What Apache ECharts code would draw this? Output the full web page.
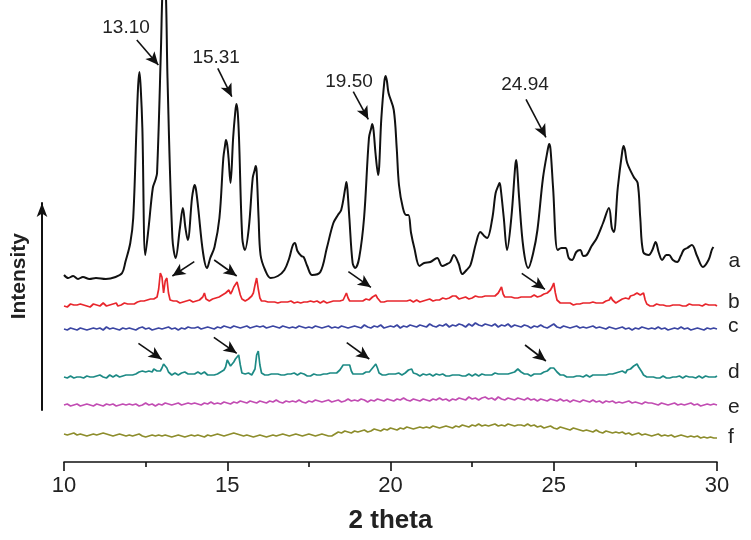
<!DOCTYPE html>
<html><head><meta charset="utf-8">
<script src="https://cdn.jsdelivr.net/npm/echarts@6/dist/echarts.min.js"></script>
<style>html,body{margin:0;padding:0;background:#fff}#c{width:751px;height:540px}</style>
</head><body><div id="c"></div>
<script>
// ---- data ----
const xTicks = [10, 15, 20, 25, 30];
const traceNames = ['a', 'b', 'c', 'd', 'e', 'f'];
const offsets = { a: 184, b: 157, c: 133, d: 85, e: 57, f: 27 };

// Trace a: [2theta, intensity above baseline]
const traceA = [
[10.0,3],[10.13,0],[10.28,2],[10.43,-1],[10.58,1],[10.78,-1],[10.98,0],[11.28,-1],[11.58,1],[11.78,5],
[11.88,16],[12.03,35],[12.12,60],[12.22,150],[12.27,192],[12.31,206],[12.35,190],[12.40,150],[12.49,23],[12.59,50],[12.72,90],[12.80,98],
[12.85,105],[12.97,230],[13.02,290],[13.07,300],[13.12,285],[13.17,200],[13.32,40],[13.42,20],[13.55,50],[13.64,70],[13.72,50],[13.79,38],
[13.92,80],[13.97,90],[14.00,93],[14.04,89],[14.11,70],[14.26,25],[14.38,10],[14.48,20],[14.61,31],[14.76,60],[14.88,120],[14.93,132],[14.96,138],
[15.00,133],[15.04,120],[15.10,95],[15.18,140],[15.24,164],[15.28,174],[15.32,166],[15.36,140],[15.46,40],[15.54,28],[15.66,50],[15.78,100],[15.84,108],[15.87,112],
[15.90,107],[15.96,60],[16.02,23],[16.16,8],[16.33,0],[16.55,2],[16.75,8],[16.90,20],[17.00,32],[17.07,35],[17.15,27],
[17.27,22],[17.34,21],[17.45,12],[17.60,3],[17.85,6],[18.05,30],[18.25,55],[18.39,63],[18.49,68],[18.62,91],[18.65,96],[18.68,89],
[18.74,60],[18.84,15],[18.92,10],[19.04,20],[19.19,60],[19.34,140],[19.41,150],[19.44,154],[19.48,148],[19.54,125],[19.62,103],[19.72,160],
[19.81,196],[19.85,202],[19.89,197],[19.94,185],[20.10,168],[20.19,130],[20.26,93],[20.38,70],[20.48,63],[20.55,63],[20.63,45],[20.73,30],
[20.89,12],[21.03,15],[21.22,16],[21.43,20],[21.58,12],[21.73,14],[21.83,16],[21.94,23],[22.08,15],[22.20,4],
[22.33,8],[22.45,13],[22.62,35],[22.75,46],[22.87,42],[22.96,40],[23.12,60],[23.22,85],[23.31,93],[23.34,95],[23.37,91],[23.47,60],
[23.57,28],[23.70,60],[23.82,112],[23.85,118],[23.88,110],[23.94,80],[24.07,30],[24.22,10],[24.37,25],[24.50,48],[24.67,100],[24.82,129],[24.86,134],
[24.90,129],[24.98,90],[25.12,28],[25.24,30],[25.36,30],[25.46,20],[25.56,18],[25.69,26],[25.81,28],[25.91,22],[26.01,23],
[26.16,32],[26.32,40],[26.51,55],[26.69,70],[26.78,50],[26.84,46],[26.96,90],[27.10,127],[27.14,132],[27.18,128],[27.25,115],[27.45,101],
[27.57,95],[27.65,60],[27.74,26],[27.91,23],[28.02,28],[28.12,36],[28.22,25],[28.32,18],[28.45,23],[28.53,23],
[28.65,18],[28.78,16],[28.89,22],[28.98,28],[29.09,30],[29.23,33],[29.39,22],[29.57,11],[29.74,18],[29.84,28],
[29.89,31]
];

// Traces b and d: intensity every 0.05 deg from 10 to 30
const traceB = [
-1,0,-2,-1,1,-1,0,-2,0,-1, 1,-1,0,1,-1,0,-2,0,1,-1, 0,1,-1,0,2,0,-1,1,0,-1, 1,0,2,-1,1,0,1,2,0,1, 2,1,3,1,2,3,2,4,3,4,
3,5,4,6,5,6,5,8,16,32, 28,12,24,27,12,5,3,4,2,4,
3,2,4,3,2,4,3,5,4,3, 5,4,6,5,6,8,12,6,5,4,
5,6,5,7,6,8,9,10,11,12, 13,15,11,14,18,20,23,22,10,6,
5,4,5,6,7,9,12,20,27,16, 7,4,3,4,2,3,4,3,2,3,
3,2,4,3,2,3,4,3,2,4, 3,2,4,3,3,2,4,3,2,3,
2,4,3,3,2,4,3,2,3,4, 3,2,4,3,2,4,3,4,3,4,
4,5,6,12,7,4,3,4,3,4, 3,4,3,4,5,6,7,5,6,8,
9,10,7,5,3,4,3,2,4,3, 4,3,4,5,4,3,4,5,4,3,
4,3,5,4,3,4,5,4,3,5, 4,6,5,4,6,5,4,6,5,6,
5,6,7,5,6,5,7,6,9,11, 9,7,6,8,7,9,8,7,6,8,
7,8,9,7,8,9,8,10,9,8, 9,10,9,8,9,10,12,15,18,11,
8,9,8,7,8,9,7,8,7,9, 8,7,8,9,8,7,8,9,10,9,
8,9,9,10,11,11,12,13,15,18, 22,12,5,3,2,3,2,1,2,1,
2,1,0,2,1,2,1,0,2,1, 2,1,2,1,3,5,2,1,2,3,
2,3,4,3,5,8,5,3,2,3, 4,5,6,5,7,8,6,9,8,10,
11,12,13,10,11,12,5,1,0,-1, 0,-1,0,1,-1,0,-1,0,1,-1,
0,-1,1,0,-1,0,-2,0,1,-1, 0,-1,0,1,-1,0,-2,0,-1,0,
0,-1,0,1,-1,0,-2,0,-1,0,-1
];
const traceD = [
0,1,-1,0,1,0,-1,1,0,2, 0,1,-1,0,1,2,0,1,0,-1, 1,0,2,1,0,1,-1,0,2,1, 0,1,2,1,0,2,1,3,2,1, 2,3,2,4,3,2,5,3,6,4,
5,4,6,7,5,8,7,6,7,6, 9,13,15,9,5,3,2,3,4,3,
2,3,4,3,5,6,3,2,3,4, 3,4,5,4,3,4,5,3,2,3,
2,3,2,4,3,4,5,6,7,10, 17,19,11,9,15,18,20,22,12,4,
2,3,2,4,3,2,4,8,22,26, 12,4,3,2,3,2,4,3,2,3,
2,3,4,2,3,2,4,3,2,3, 2,4,3,2,3,4,2,3,2,1,
2,1,2,3,1,2,3,2,1,3, 2,3,2,4,3,4,5,4,6,7,
9,12,13,12,13,12,6,3,2,3, 4,3,2,3,4,5,6,5,7,9,
11,13,9,4,3,2,3,2,4,3, 2,3,4,3,2,4,3,2,3,4,
5,7,9,8,4,2,3,2,1,2, 3,1,2,1,3,2,1,2,3,1,
2,1,3,2,1,2,1,3,2,1, 2,1,2,3,1,2,1,2,3,2,
1,2,3,2,1,2,3,1,2,3, 2,3,2,3,4,5,3,4,3,2,
3,2,3,2,4,3,5,6,8,7, 5,4,3,2,3,2,1,2,3,2,
3,2,3,4,5,5,6,8,9,8, 9,7,5,3,2,1,2,1,0,1,
0,1,0,2,1,0,1,2,0,1, 2,1,0,1,2,1,2,3,2,1,
2,3,2,4,3,4,3,5,4,3, 5,4,6,5,4,7,6,8,9,11,
12,13,10,8,5,2,1,0,-1,0, -1,0,1,-1,0,-1,0,1,0,-1,
0,-1,1,0,-1,0,-1,1,0,-1, 0,1,-1,0,-1,0,1,-1,0,1,
0,-1,0,1,-1,0,-1,0,1,0,1
];
// Traces c, e, f: intensity every 0.1 deg from 10 to 30
const traceC = [
0,-1,1,0,-1,1,0,-1,0,1, 0,1,-1,2,0,1,0,-1,1,0, 1,0,-1,1,2,0,1,-1,0,1, 0,1,2,0,1,-1,1,0,2,1,
1,2,0,1,2,1,0,2,1,3, 2,1,3,2,1,2,3,1,2,3, 2,3,1,2,3,2,1,3,2,1, 2,1,3,2,1,2,1,3,2,1,
2,3,1,2,1,3,2,1,2,3, 2,1,4,2,1,3,2,4,1,2, 3,2,4,1,3,2,4,3,2,4, 3,2,5,3,2,4,3,5,2,4,
3,5,4,2,5,3,6,4,3,5, 4,3,5,2,4,3,5,2,4,3, 2,4,3,1,3,2,4,2,1,3, 5,2,1,3,2,1,2,3,1,2,
1,2,3,1,2,1,0,2,1,0, 1,2,0,1,-1,1,0,2,1,0, 1,0,2,0,1,-1,0,1,0,2, 0,1,-1,0,1,0,-1,1,0,1,
0
];
const traceE = [
0,1,-1,0,1,-1,0,1,0,-1, 1,0,-1,1,0,1,-1,0,1,0, 1,0,1,-1,0,2,0,1,-1,1, 0,2,1,0,1,2,0,1,2,1,
2,1,0,2,1,3,1,2,1,3, 2,1,3,2,4,3,2,4,3,2, 4,3,2,4,3,5,3,2,4,3, 4,3,5,3,2,4,3,5,4,3,
4,5,3,4,5,3,4,6,4,5, 4,6,5,3,5,4,6,5,4,6, 5,4,6,5,7,5,4,6,5,4, 6,5,4,6,5,7,5,6,4,6,
5,7,6,5,8,6,7,5,7,8, 6,7,5,8,6,5,7,6,5,7, 6,5,7,5,6,4,6,5,4,6, 5,4,6,4,5,3,5,4,3,5,
4,3,5,3,4,2,4,3,4,2, 3,2,3,4,2,3,2,1,3,2, 2,1,0,2,1,0,1,2,0,1, 0,1,2,0,1,-1,0,1,0,1,
0
];
const traceF = [
1,0,1,2,0,1,0,-1,0,1, 0,1,2,1,0,-1,0,1,0,-1, 0,-1,0,1,-1,-2,-1,0,-1,0, -1,0,-1,-2,-1,0,-1,-2,-1,0,
-1,0,-1,-2,0,-1,0,1,0,-1, 0,1,2,1,0,-1,0,-1,-2,-1, 0,-1,-2,-1,0,-1,0,1,0,-1, 0,1,0,-1,0,1,0,-1,0,1,
0,-1,-1,1,3,2,4,3,2,4, 3,4,5,3,4,6,5,4,6,5, 7,6,5,7,6,8,7,6,7,8, 7,8,7,9,8,7,8,9,8,7,
9,8,10,9,8,10,9,11,9,10, 9,10,11,9,10,9,11,10,9,10, 10,9,11,9,10,8,9,7,8,9, 7,6,8,7,6,5,7,6,5,4,
5,4,3,5,3,2,4,3,2,3, 2,3,1,2,0,1,2,0,1,0, -1,0,1,-1,0,-1,0,-2,-1,0, -1,-2,-1,-2,-1,-3,-2,-3,-2,-3,
-3
];

// Peak annotations (label text, label position, arrow start, arrow end) in data units
const peakLabels = ['13.10', '15.31', '19.50', '24.94'];
const peakLabelPos = [[11.90, 434.5], [14.66, 404.5], [18.73, 380], [24.12, 377]];
const peakArrows = [
  [[12.23, 422], [12.89, 397]], [[14.71, 393.7], [15.14, 365.3]],
  [[18.86, 370.3], [19.32, 342.7]], [[24.15, 362.7], [24.76, 324.7]],
  // arrows on trace b
  [[13.99, 200.3], [13.32, 186]], [[14.60, 202], [15.29, 186]],
  [[18.71, 190.3], [19.40, 174.7]], [[24.02, 188.7], [24.73, 172.7]],
  // arrows on trace d
  [[12.28, 118.7], [12.99, 102.7]], [[14.59, 124.7], [15.29, 108.7]],
  [[18.66, 119.3], [19.35, 103]], [[24.12, 117], [24.76, 101]]
];

// ---- build ----
const FONT = '"Liberation Sans", Arial, Helvetica, sans-serif';
function grid(vals, x0, x1, off) {
  const n = vals.length, step = (x1 - x0) / (n - 1);
  return vals.map((v, i) => [+(x0 + i * step).toFixed(3), off + v]);
}
const colors = { a: '#111111', b: '#e8262c', c: '#3b46a3', d: '#1d8a85', e: '#c24db3', f: '#8d8d2c' };
const labelDy = { a: 14, b: -4, c: -2.5, d: -3.5, e: 2.5, f: -0.5 };
const labelDist = { a: 15, b: 11, c: 11, d: 11, e: 11, f: 11 };

const seriesData = {
  a: traceA.map(p => [p[0], offsets.a + p[1]]),
  b: grid(traceB, 10, 30, offsets.b),
  c: grid(traceC, 10, 30, offsets.c),
  d: grid(traceD, 10, 30, offsets.d),
  e: grid(traceE, 10, 30, offsets.e),
  f: grid(traceF, 10, 30, offsets.f)
};

const series = traceNames.map(n => ({
  name: n, type: 'line', xAxisIndex: 0, yAxisIndex: 0,
  data: seriesData[n], showSymbol: false, symbol: 'none',
  smooth: n === 'a' ? 0.35 : false,
  lineStyle: { color: colors[n], width: n === 'a' ? 2 : 1.7 },
  itemStyle: { color: colors[n] },
  silent: true, z: n === 'a' ? 3 : 2,
  endLabel: { show: true, formatter: n, color: '#222', fontFamily: FONT, fontSize: 21,
    distance: labelDist[n], offset: [0, labelDy[n]] }
}));

series[0].markLine = {
  silent: true, animation: false,
  symbol: ['none', 'arrow'], symbolSize: [9, 13],
  label: { show: false },
  lineStyle: { color: '#111', width: 1.6, type: 'solid' },
  emphasis: { disabled: true },
  data: peakArrows.map(a => [{ coord: a[0] }, { coord: a[1] }])
};
series[0].markPoint = {
  silent: true, animation: false, symbol: 'rect', symbolSize: 1,
  itemStyle: { color: 'rgba(0,0,0,0)' },
  label: { show: true, position: 'inside', formatter: '{b}', color: '#222', fontFamily: FONT, fontSize: 19 },
  data: peakLabels.map((t, i) => ({ name: t, coord: peakLabelPos[i] }))
};

const chart = echarts.init(document.getElementById('c'), null, { renderer: 'canvas' });
chart.setOption({
  animation: false,
  backgroundColor: '#fff',
  grid: [
    { left: 64, right: 34, top: 0, bottom: 78 },
    { left: 42, width: 10, top: 203, bottom: 130 }
  ],
  xAxis: [
    { type: 'value', gridIndex: 0, min: 10, max: 30, interval: 5,
      name: '2 theta', nameLocation: 'middle', nameGap: 46,
      nameTextStyle: { fontFamily: FONT, fontSize: 26, fontWeight: 'bold', color: '#222' },
      axisLine: { show: true, lineStyle: { color: '#111', width: 1.6 } },
      axisTick: { show: true, inside: false, length: 9, lineStyle: { color: '#111', width: 1.6 } },
      minorTick: { show: true, splitNumber: 2, length: 5, lineStyle: { color: '#111', width: 1.6 } },
      axisLabel: { fontFamily: FONT, fontSize: 22, color: '#222', margin: 13,
        customValues: xTicks },
      splitLine: { show: false } },
    { type: 'value', gridIndex: 1, show: false, min: 0, max: 1 }
  ],
  yAxis: [
    { type: 'value', gridIndex: 0, min: 0, max: 462, show: false },
    { type: 'value', gridIndex: 1, min: 0, max: 1, position: 'left',
      axisLine: { show: true, symbol: ['none', 'arrow'], symbolSize: [8, 14], lineStyle: { color: '#111', width: 2 } },
      axisTick: { show: false }, axisLabel: { show: false }, splitLine: { show: false } }
  ],
  graphic: [
    { type: 'text', left: 9, top: 233, rotation: Math.PI / 2, z: 10,
      style: { text: 'Intensity', font: 'bold 21px ' + FONT, fill: '#222' } }
  ],
  series: series
});
</script></body></html>
